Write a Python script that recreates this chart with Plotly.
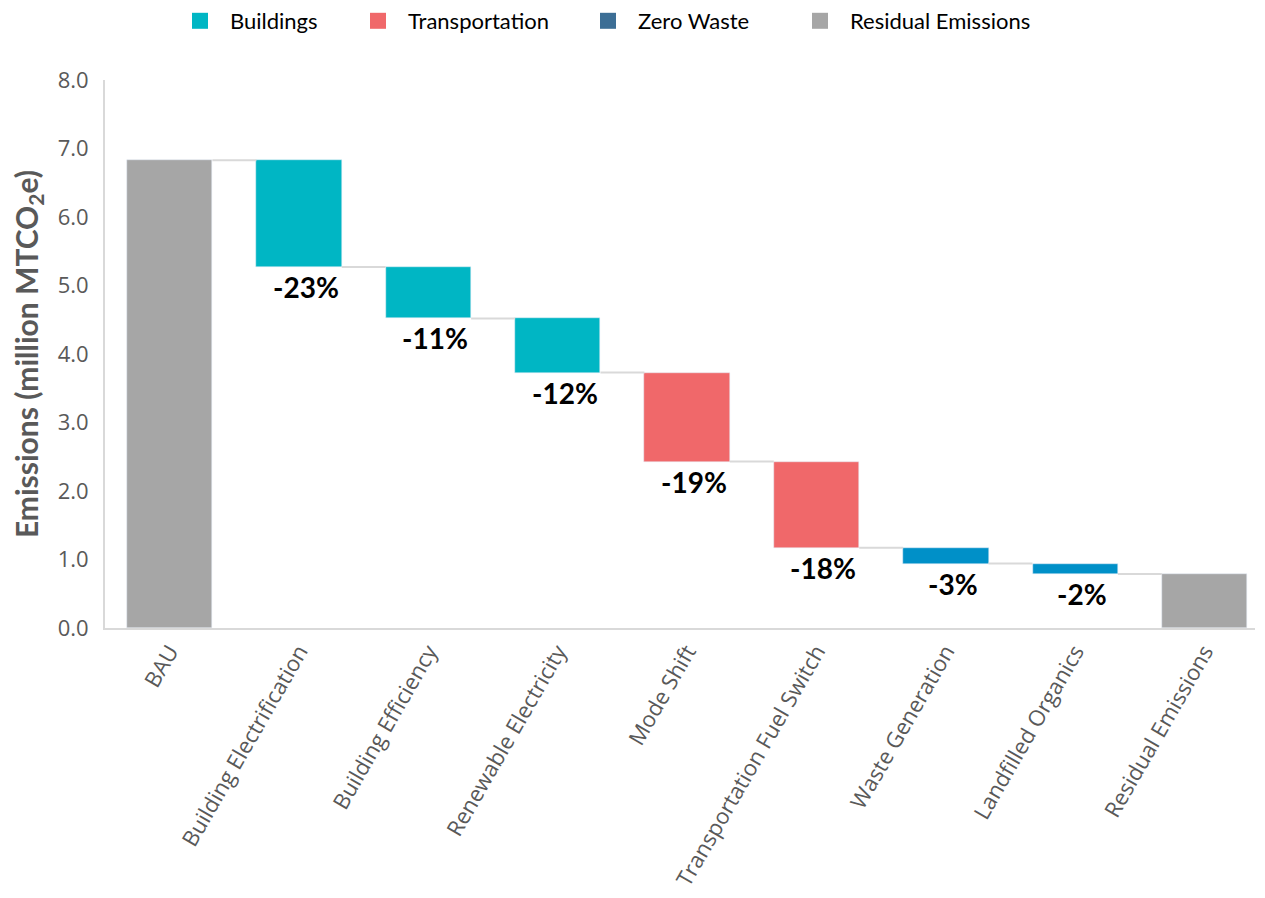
import plotly.graph_objects as go

categories = ["BAU", "Building Electrification", "Building Efficiency", "Renewable Electricity",
              "Mode Shift", "Transportation Fuel Switch", "Waste Generation", "Landfilled Organics",
              "Residual Emissions"]
bau_value = 6.83
reductions = [-1.56, -0.75, -0.79, -1.30, -1.26, -0.23, -0.15]
pct_labels = ["-23%", "-11%", "-12%", "-19%", "-18%", "-3%", "-2%"]
sectors = ["Buildings", "Buildings", "Buildings", "Transportation", "Transportation", "Zero Waste", "Zero Waste"]
legend_names = ["Buildings", "Transportation", "Zero Waste", "Residual Emissions"]

sector_colors = {"Buildings": "#00B6C4", "Transportation": "#F0686A", "Zero Waste": "#0090C8",
                 "Residual Emissions": "#A6A6A6"}
legend_colors = {"Buildings": "#00B6C4", "Transportation": "#F0686A", "Zero Waste": "#3C6E95",
                 "Residual Emissions": "#A6A6A6"}

W, H = 1257, 890
M_T, M_B = 72, 270

# running levels
levels = [bau_value]
for r in reductions:
    levels.append(levels[-1] + r)
residual = levels[-1]

bar_w = 0.66
fig = go.Figure()

# totals
fig.add_trace(go.Bar(x=[categories[0], categories[-1]], y=[bau_value, residual], base=[0, 0],
                     marker_color=sector_colors["Residual Emissions"], width=bar_w,
                     showlegend=False, hoverinfo="skip"))
# reductions
for i, r in enumerate(reductions):
    fig.add_trace(go.Bar(x=[categories[i + 1]], y=[-r], base=[levels[i + 1]],
                         marker_color=sector_colors[sectors[i]], width=bar_w,
                         showlegend=False, hoverinfo="skip"))

# connectors
for i in range(len(categories) - 1):
    lvl = levels[i]
    fig.add_trace(go.Scatter(x=[i + bar_w / 2, i + 1 - bar_w / 2], y=[lvl, lvl], mode="lines",
                             line=dict(color="#D9D9D9", width=2), showlegend=False,
                             hoverinfo="skip", xaxis="x2"))

# legend entries (one legend each, positioned individually)
legend_px = [162, 340, 570, 782]
legend_ids = ["legend", "legend2", "legend3", "legend4"]
for name, lid in zip(legend_names, legend_ids):
    fig.add_trace(go.Scatter(x=[None], y=[None], mode="markers", name=name, legend=lid,
                             marker=dict(symbol="square", size=20, color=legend_colors[name]),
                             showlegend=True))

annotations = []
for i, p in enumerate(pct_labels):
    annotations.append(dict(x=categories[i + 1], y=levels[i + 1], text="<b>" + p + "</b>",
                            showarrow=False, yanchor="top", yshift=-1, xshift=7,
                            font=dict(family="Lato", size=28, color="#000000")))

legend_center_px = 13
legend_layout = {}
for lid, px in zip(legend_ids, legend_px):
    legend_layout[lid] = dict(orientation="h", x=px / W, xref="container", xanchor="left",
                              y=1 - legend_center_px / H, yref="container", yanchor="middle",
                              font=dict(family="Lato", size=22, color="#000000"),
                              itemwidth=50, bgcolor="rgba(0,0,0,0)")

fig.update_layout(
    width=W, height=H,
    margin=dict(l=97, r=10, t=M_T, b=M_B, autoexpand=False),
    plot_bgcolor="white", paper_bgcolor="white",
    barmode="overlay",
    bargap=0,
    annotations=annotations,
    xaxis=dict(type="category", categoryorder="array", categoryarray=categories,
               range=[-0.5, 8.39], showline=True, linecolor="#D9D9D9", linewidth=2,
               ticks="", tickangle=-60, automargin=False,
               tickfont=dict(family="Open Sans", size=22, color="#595959")),
    xaxis2=dict(overlaying="x", range=[-0.5, 8.39], visible=False),
    yaxis=dict(range=[0, 8], dtick=1, tickformat=".1f", showgrid=False, zeroline=False,
               showline=True, linecolor="#D9D9D9", linewidth=2, ticks="", automargin=False,
               ticklabelstandoff=10,
               tickfont=dict(family="Open Sans", size=22, color="#595959"),
               title=dict(text="<b>Emissions (million MTCO<sub>2</sub>e)</b>",
                          font=dict(family="Lato", size=30, color="#595959"),
                          standoff=10)),
    **legend_layout,
)

fig.write_html("out.html")
